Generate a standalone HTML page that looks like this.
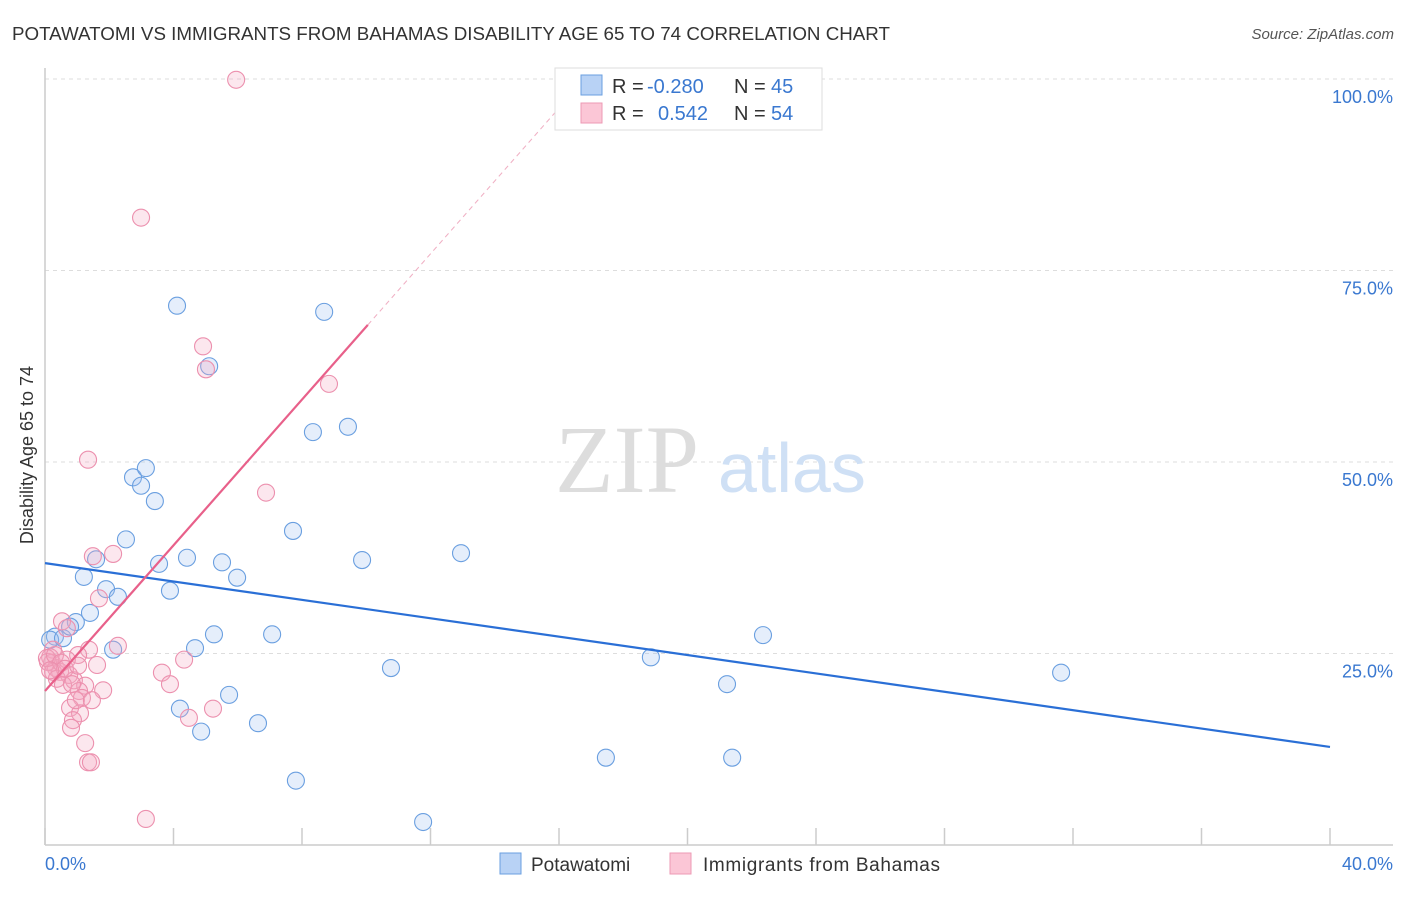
<!DOCTYPE html>
<html><head><meta charset="utf-8"><style>
body{margin:0;background:#fff;font-family:"Liberation Sans",sans-serif}
svg text{font-family:"Liberation Sans",sans-serif}
</style></head><body>
<svg width="1406" height="892">
<text x="12" y="40" font-size="18" fill="#333" textLength="878" lengthAdjust="spacingAndGlyphs">POTAWATOMI VS IMMIGRANTS FROM BAHAMAS DISABILITY AGE 65 TO 74 CORRELATION CHART</text>
<text x="1394" y="39" font-size="15" fill="#555" font-style="italic" text-anchor="end">Source: ZipAtlas.com</text>
<g id="grid"></g>
<line x1="45" y1="68" x2="45" y2="845" stroke="#ccc" stroke-width="1.5"/>
<line x1="45" y1="845" x2="1393" y2="845" stroke="#ccc" stroke-width="1.5"/>
<text x="33" y="455" font-size="18" fill="#333" text-anchor="middle" transform="rotate(-90 33 455)">Disability Age 65 to 74</text>
<text x="555" y="492" font-size="96" fill="#ddd" style="font-family:'Liberation Serif',serif">ZIP</text>
<text x="718" y="492" font-size="70" fill="#cfe0f5">atlas</text>
<g id="ticks"></g>
<g id="marks"></g>
<g id="lines"></g>
<text x="45" y="870" font-size="18" fill="#3a78d0">0.0%</text>
<text x="1393" y="870" font-size="18" fill="#3a78d0" text-anchor="end">40.0%</text>
<g>
<rect x="555" y="68" width="267" height="62" fill="#fff" stroke="#ddd"/>
<rect x="581" y="75" width="21" height="20" fill="#b8d2f5" stroke="#6a9fe0"/>
<rect x="581" y="103" width="21" height="20" fill="#fbc6d6" stroke="#ec9ab4"/>
<text x="612" y="93" font-size="20" fill="#333">R = <tspan fill="#3a78d0" x="647">-0.280</tspan></text>
<text x="734" y="93" font-size="20" fill="#333">N = <tspan fill="#3a78d0" x="771">45</tspan></text>
<text x="612" y="120" font-size="20" fill="#333">R = <tspan fill="#3a78d0" x="658">0.542</tspan></text>
<text x="734" y="120" font-size="20" fill="#333">N = <tspan fill="#3a78d0" x="771">54</tspan></text>
</g>
<g>
<rect x="500" y="853" width="21" height="21" fill="#b8d2f5" stroke="#6a9fe0"/>
<text x="531" y="871" font-size="19" fill="#333">Potawatomi</text>
<rect x="670" y="853" width="21" height="21" fill="#fbc6d6" stroke="#ec9ab4"/>
<text x="703" y="871" font-size="19" fill="#333" textLength="237">Immigrants from Bahamas</text>
</g>
</svg>
<script>
const yTicks=[25,50,75,100];
const yTickLabels=["25.0%","50.0%","75.0%","100.0%"];
const xTicks=[0,4,8,12,16,20,24,28,32,36,40];
const blueX=[0.31,0.16,0.56,0.96,0.78,1.40,1.21,1.59,1.90,2.27,2.12,2.52,2.74,2.99,3.14,3.42,3.55,3.89,4.11,4.42,4.67,4.20,4.86,5.11,5.26,5.51,5.73,5.98,6.63,7.07,7.72,7.81,8.34,8.69,9.43,9.87,10.77,11.77,12.95,17.46,18.86,21.23,21.39,22.35,31.63];
const blueY=[27.2,26.8,27.0,29.1,28.5,30.3,35.0,37.3,33.4,32.4,25.5,39.9,48.0,46.9,49.2,44.9,36.7,33.2,70.4,37.5,25.7,17.8,14.8,62.5,27.5,36.9,19.6,34.9,15.9,27.5,41.0,8.4,53.9,69.6,54.6,37.2,23.1,3.0,38.1,11.4,24.5,21.0,11.4,27.4,22.5];
const pinkX=[5.95,2.99,4.92,5.01,8.84,1.34,6.88,1.49,2.12,1.68,0.53,0.68,2.27,1.37,1.03,0.25,0.16,0.22,0.34,0.09,0.47,0.68,0.75,1.62,4.33,3.64,3.89,0.90,1.25,1.06,1.15,0.78,1.09,0.87,0.81,1.25,1.34,1.43,4.48,5.23,3.14,0.25,0.37,0.56,0.06,0.31,0.50,0.62,0.84,0.16,1.03,0.96,1.81,1.46];
const pinkY=[99.9,81.9,65.1,62.1,60.2,50.3,46.0,37.7,38.0,32.2,29.2,28.3,26.0,25.5,24.8,25.5,24.5,23.8,23.1,23.9,22.6,24.2,22.2,23.5,24.2,22.5,21.0,21.5,20.8,20.1,19.2,17.9,17.2,16.3,15.3,13.3,10.8,10.8,16.6,17.8,3.4,22.6,21.7,20.9,24.4,24.8,23.8,23.0,21.0,22.8,23.4,18.9,20.2,18.9];
const blueTrend=[[0,36.8],[40,12.8]];
const pinkTrend=[[0,20.1],[10.05,67.9]];
const pinkDash=[[10.05,67.9],[16.8,100]];
const X=v=>45+v/40*1285, Y=v=>845-v/100*766;
const NS="http://www.w3.org/2000/svg";
function mk(p,t,a){const e=document.createElementNS(NS,t);for(const k in a)e.setAttribute(k,a[k]);p.appendChild(e);return e;}
const grid=document.getElementById('grid'),ticks=document.getElementById('ticks'),marks=document.getElementById('marks'),lines=document.getElementById('lines');
yTicks.forEach((t,i)=>{
 const l=mk(grid,'line',{x1:45,x2:1393,y1:Y(t),y2:Y(t),stroke:'#ddd','stroke-dasharray':'4,4'});
 
 
 const tx=mk(grid,'text',{x:1393,y:Y(t)+24,'font-size':18,fill:'#3a78d0','text-anchor':'end'});tx.textContent=yTickLabels[i];
 
 
});
xTicks.forEach(t=>{
 const l=mk(ticks,'line',{x1:X(t),x2:X(t),y1:828,y2:845,stroke:'#ccc','stroke-width':1.5});
 
 
});
blueX.forEach((v,i)=>{
 const c=mk(marks,'circle',{cx:X(v),cy:Y(blueY[i]),r:8.5,fill:'rgba(160,195,240,0.28)',stroke:'#6a9fe0','stroke-width':1.1});
 
 
});
pinkX.forEach((v,i)=>{
 const c=mk(marks,'circle',{cx:X(v),cy:Y(pinkY[i]),r:8.5,fill:'rgba(245,170,195,0.28)',stroke:'#ec90ae','stroke-width':1.1});
 
 
});
const bt=mk(lines,'line',{x1:X(blueTrend[0][0]),y1:Y(blueTrend[0][1]),x2:X(blueTrend[1][0]),y2:Y(blueTrend[1][1]),stroke:'#2a6fd6','stroke-width':2.2});


const pt=mk(lines,'line',{x1:X(pinkTrend[0][0]),y1:Y(pinkTrend[0][1]),x2:X(pinkTrend[1][0]),y2:Y(pinkTrend[1][1]),stroke:'#e8608a','stroke-width':2.2});


const pd=mk(lines,'line',{x1:X(pinkDash[0][0]),y1:Y(pinkDash[0][1]),x2:X(pinkDash[1][0]),y2:Y(pinkDash[1][1]),stroke:'#f0b0c4','stroke-width':1,'stroke-dasharray':'5,4'});


</script>
</body></html>
